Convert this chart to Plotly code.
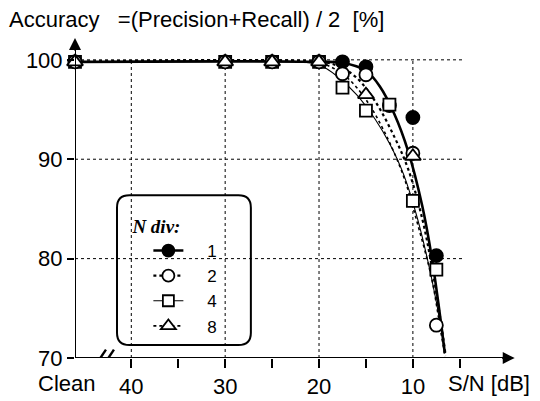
import plotly.graph_objects as go

CLEAN = 46  # position used for the "Clean" condition on the S/N axis

# ---- measured points (S/N in dB, accuracy in %) ----
sn_1 = [CLEAN, 30, 25, 20, 17.5, 15, 12.5, 10, 7.5]
acc_1 = [99.8, 99.8, 99.8, 99.8, 99.8, 99.3, 95.4, 94.2, 80.3]
sn_2 = [CLEAN, 30, 25, 20, 17.5, 15, 10, 7.5]
acc_2 = [99.8, 99.8, 99.8, 99.8, 98.6, 98.5, 90.6, 73.3]
sn_4 = [CLEAN, 30, 25, 20, 17.5, 15, 12.5, 10, 7.5]
acc_4 = [99.8, 99.8, 99.8, 99.8, 97.2, 94.9, 95.5, 85.8, 78.9]
sn_8 = [CLEAN, 30, 25, 20, 15, 10]
acc_8 = [99.8, 99.8, 99.8, 99.8, 96.5, 90.3]

# ---- fitted curves ----
fit_sn_1 = [CLEAN, 20, 17.5, 15, 13.5, 12, 10.5, 9, 8, 7, 6.6]
fit_acc_1 = [99.8, 99.8, 99.7, 98.9, 97.3, 94.6, 90.8, 85.3, 80.2, 73.5, 70.5]
fit_sn_2 = [CLEAN, 20, 18, 16, 14, 12, 10.5, 9, 8, 7, 6.5]
fit_acc_2 = [99.8, 99.8, 99.4, 98.2, 95.8, 92.3, 89.0, 84.0, 79.3, 73.5, 70.2]
fit_sn_4 = [CLEAN, 22, 20, 18, 16, 14, 12.5, 11, 9.5, 8, 7, 6.7]
fit_acc_4 = [99.8, 99.8, 99.5, 98.3, 96.5, 94.0, 91.6, 88.5, 84.0, 78.0, 73.0, 71.0]
fit_sn_8 = [CLEAN, 21, 19, 17, 15, 13, 11, 9.5, 8, 7, 6.6]
fit_acc_8 = [99.8, 99.8, 99.4, 98.2, 96.0, 92.7, 88.3, 83.5, 78.0, 72.5, 70.3]

series_names = ["1", "2", "4", "8"]
x_ticks = [40, 35, 30, 25, 20, 15, 10, 5]
x_ticktext = ["40", "", "30", "", "20", "", "10", ""]
y_ticks = [70, 80, 90, 100]
grid_x = [40, 30, 20, 10]
grid_y = [80, 90, 100]

FONT = "Liberation Sans, Arial, Helvetica, sans-serif"
X_RANGE = [CLEAN, -1.2]
Y_RANGE = [70, 102.6]
X_TIP = -0.85
Y_TIP = 102.2

styles = {
    "1": dict(line=dict(color="black", width=2.6), symbol="circle", fill="black", size=13),
    "2": dict(line=dict(color="black", width=2.2, dash="dot"), symbol="circle", fill="white", size=13),
    "4": dict(line=dict(color="black", width=1.1), symbol="square", fill="white", size=12),
    "8": dict(line=dict(color="black", width=1.6, dash="dot"), symbol="triangle-up", fill="white", size=14),
}
points = {"1": (sn_1, acc_1), "2": (sn_2, acc_2), "4": (sn_4, acc_4), "8": (sn_8, acc_8)}
fits = {"1": (fit_sn_1, fit_acc_1), "2": (fit_sn_2, fit_acc_2),
        "4": (fit_sn_4, fit_acc_4), "8": (fit_sn_8, fit_acc_8)}

fig = go.Figure()

# fitted curves
for name in ["4", "8", "2", "1"]:
    fx, fy = fits[name]
    fig.add_trace(go.Scatter(x=fx, y=fy, mode="lines",
                             line=dict(**styles[name]["line"], shape="spline", smoothing=1.0),
                             showlegend=False, hoverinfo="skip", cliponaxis=False))

# measured markers
for name in ["1", "4", "2", "8"]:
    px, py = points[name]
    st = styles[name]
    fig.add_trace(go.Scatter(x=px, y=py, mode="markers",
                             marker=dict(symbol=st["symbol"], size=st["size"], color=st["fill"],
                                         line=dict(color="black", width=1.8)),
                             showlegend=False, cliponaxis=False))

# legend entries
for name in series_names:
    st = styles[name]
    fig.add_trace(go.Scatter(x=[None], y=[None], mode="lines+markers",
                             name="\u00a0\u00a0\u00a0\u00a0" + name,
                             line=st["line"],
                             marker=dict(symbol=st["symbol"], size=st["size"] - 1, color=st["fill"],
                                         line=dict(color="black", width=1.8))))

shapes = []
# dotted grid
for gy in grid_y:
    shapes.append(dict(type="line", xref="x", yref="y", x0=CLEAN, x1=4.5, y0=gy, y1=gy,
                       line=dict(color="black", width=1, dash="dot"), layer="below"))
for gx in grid_x:
    shapes.append(dict(type="line", xref="x", yref="y", x0=gx, x1=gx, y0=Y_RANGE[0], y1=100,
                       line=dict(color="black", width=1, dash="dot"), layer="below"))
# axis lines
shapes.append(dict(type="line", xref="x", yref="y", x0=CLEAN, x1=CLEAN, y0=69.1, y1=Y_TIP - 0.8,
                   line=dict(color="black", width=2)))
shapes.append(dict(type="line", xref="x", yref="y", x0=CLEAN, x1=X_TIP + 0.8, y0=70, y1=70,
                   line=dict(color="black", width=2)))
# axis break marks
for x0, x1 in [(43.9, 42.7), (43.05, 41.85)]:
    shapes.append(dict(type="line", xref="x", yref="y", x0=x0, x1=x1, y0=69.15, y1=70.85,
                       line=dict(color="black", width=2.4)))
# rounded legend box (paper coords)
lx0, lx1, ly0, ly1 = 0.0948, 0.397, 0.040, 0.502
rx, ry = 0.028, 0.038
path = (f"M {lx0+rx},{ly1} L {lx1-rx},{ly1} Q {lx1},{ly1} {lx1},{ly1-ry} "
        f"L {lx1},{ly0+ry} Q {lx1},{ly0} {lx1-rx},{ly0} L {lx0+rx},{ly0} "
        f"Q {lx0},{ly0} {lx0},{ly0+ry} L {lx0},{ly1-ry} Q {lx0},{ly1} {lx0+rx},{ly1} Z")
shapes.append(dict(type="path", xref="paper", yref="paper", path=path,
                   line=dict(color="black", width=2), fillcolor="white", layer="below"))

annotations = [
    # arrowheads of the axes
    dict(x=0, y=Y_TIP, xref="paper", yref="y", ax=0, ay=14, axref="pixel", ayref="pixel",
         showarrow=True, arrowhead=2, arrowsize=1.2, arrowwidth=2, arrowcolor="black", text=""),
    dict(x=X_TIP, y=0, xref="x", yref="paper", ax=-14, ay=0, axref="pixel", ayref="pixel",
         showarrow=True, arrowhead=2, arrowsize=1.2, arrowwidth=2, arrowcolor="black", text=""),
    dict(text="Accuracy\u00a0\u00a0\u00a0=(Precision+Recall) / 2\u00a0\u00a0[%]", x=-0.154, y=1.045,
         xref="paper", yref="paper", xanchor="left", yanchor="middle", showarrow=False,
         font=dict(family=FONT, size=22, color="black")),
    dict(text="Clean", x=-0.02, y=-0.08, xref="paper", yref="paper", xanchor="center", yanchor="middle",
         showarrow=False, font=dict(family=FONT, size=22, color="black")),
    dict(text="S/N [dB]", x=0.935, y=-0.08, xref="paper", yref="paper", xanchor="center", yanchor="middle",
         showarrow=False, font=dict(family=FONT, size=22, color="black")),
]

fig.update_layout(
    width=540, height=401,
    margin=dict(l=75, r=22, t=34, b=43, autoexpand=False),
    paper_bgcolor="white", plot_bgcolor="white",
    font=dict(family=FONT, size=22, color="black"),
    shapes=shapes, annotations=annotations,
    showlegend=True,
    legend=dict(x=0.125, y=0.462, xanchor="left", yanchor="top", bgcolor="rgba(0,0,0,0)",
                borderwidth=0, font=dict(family=FONT, size=17, color="black"),
                title=dict(text="<b><i>N div:</i></b>",
                           font=dict(family="Liberation Serif, Times New Roman, serif", size=19, color="black")),
                tracegroupgap=0, itemwidth=30, indentation=18),
    xaxis=dict(range=X_RANGE, showgrid=False, zeroline=False, showline=False, automargin=False,
               tickmode="array", tickvals=x_ticks, ticktext=x_ticktext,
               ticks="outside", ticklen=9, tickwidth=1.5, tickcolor="black",
               tickfont=dict(family=FONT, size=22, color="black")),
    yaxis=dict(range=Y_RANGE, showgrid=False, zeroline=False, showline=False, automargin=False,
               tickmode="array", tickvals=y_ticks, ticktext=[str(v) for v in y_ticks],
               ticks="outside", ticklen=7, tickwidth=1.5, tickcolor="black",
               tickfont=dict(family=FONT, size=22, color="black")),
)

fig.write_html("out.html", config={"displayModeBar": False},
               post_script="document.body.style.margin='0px';")
